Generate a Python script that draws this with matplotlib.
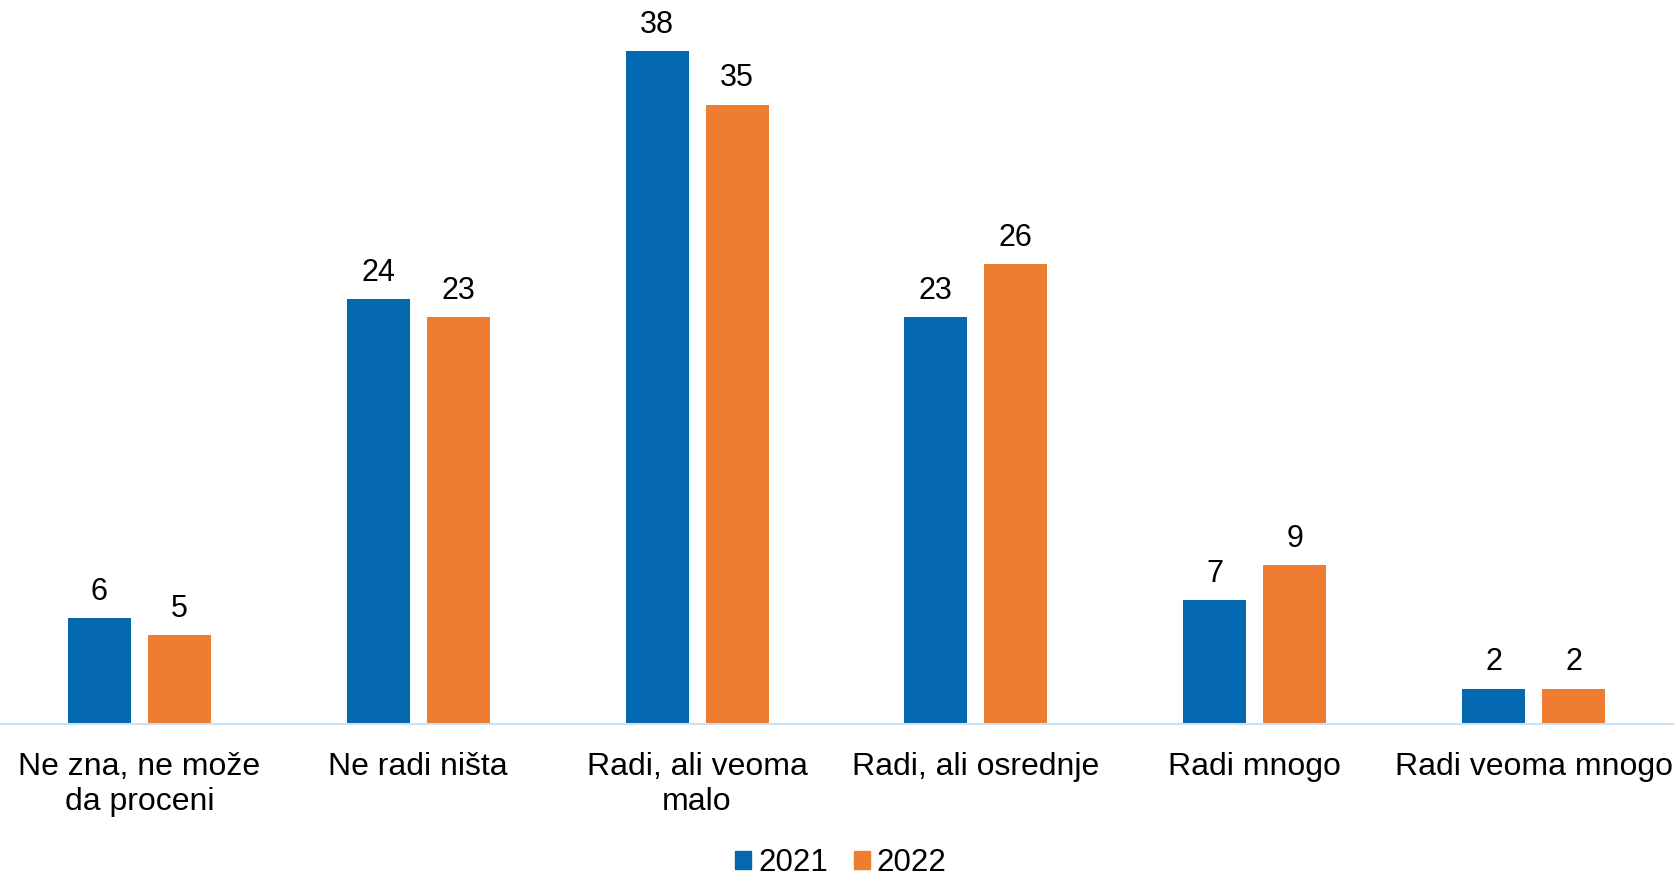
import numpy as np
import matplotlib

matplotlib.use("Agg")
import matplotlib.pyplot as plt
from matplotlib.patches import Patch

categories = [
    "Ne zna, ne može\nda proceni",
    "Ne radi ništa",
    "Radi, ali veoma\nmalo",
    "Radi, ali osrednje",
    "Radi mnogo",
    "Radi veoma mnogo",
]
values_2021 = [6, 24, 38, 23, 7, 2]
values_2022 = [5, 23, 35, 26, 9, 2]
series_labels = ["2021", "2022"]

BLUE = "#0468B0"
ORANGE = "#ED7D31"
AXIS_COLOR = "#C9E0F5"

plt.rcParams["font.family"] = ["Liberation Sans", "DejaVu Sans"]

fig = plt.figure(figsize=(16.8, 8.75), dpi=100)
ax = fig.add_axes([0.0, 0.1726, 1673 / 1680, 0.809])

x = np.arange(len(categories))
bar_width = 0.226
offset = 0.1435

bars_2021 = ax.bar(x - offset, values_2021, width=bar_width, color=BLUE)
bars_2022 = ax.bar(x + offset, values_2022, width=bar_width, color=ORANGE)

for bars in (bars_2021, bars_2022):
    ax.bar_label(bars, padding=8, fontsize=22, color="black")

ax.set_xlim(-0.5, len(categories) - 0.5)
ax.set_ylim(0, 40)
ax.set_xticks(x)
ax.set_xticklabels(categories, fontsize=23, linespacing=1.2)
ax.tick_params(axis="x", length=0, pad=20.5)
ax.set_yticks([])

for side in ("left", "right", "top"):
    ax.spines[side].set_visible(False)
ax.spines["bottom"].set_color(AXIS_COLOR)
ax.spines["bottom"].set_linewidth(1.5)

handles = [Patch(color=BLUE), Patch(color=ORANGE)]
fig.legend(
    handles,
    series_labels,
    loc="center",
    bbox_to_anchor=(841 / 1680, 1 - 863 / 875),
    ncol=2,
    frameon=False,
    fontsize=22.5,
    handlelength=0.5,
    handleheight=0.5,
    handletextpad=0.22,
    columnspacing=0.85,
)

fig.savefig("out.png", dpi=100)
plt.close(fig)
